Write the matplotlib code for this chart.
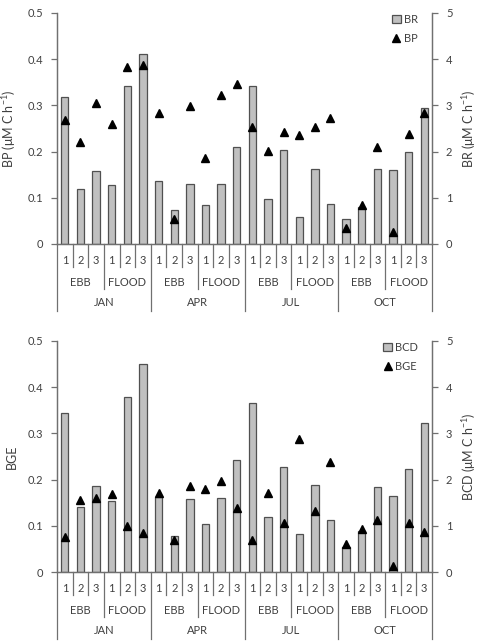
import matplotlib.pyplot as plt
import numpy as np
from matplotlib.lines import Line2D
from matplotlib.patches import Patch
from matplotlib.transforms import blended_transform_factory

plt.rcParams['font.family'] = ['Lato', 'DejaVu Sans']
plt.rcParams['mathtext.default'] = 'regular'

# Data (order: month -> tide -> site)
months = ['JAN', 'APR', 'JUL', 'OCT']
tides = ['EBB', 'FLOOD']
sites = ['1', '2', '3']

br = [3.19, 1.19, 1.57, 1.28, 3.41, 4.10,
      1.37, 0.73, 1.29, 0.84, 1.29, 2.09,
      3.42, 0.98, 2.03, 0.59, 1.63, 0.87,
      0.54, 0.80, 1.63, 1.61, 2.00, 2.94]
bp = [0.269, 0.220, 0.305, 0.259, 0.383, 0.388,
      0.283, 0.054, 0.299, 0.185, 0.323, 0.345,
      0.253, 0.201, 0.242, 0.235, 0.253, 0.272,
      0.035, 0.084, 0.209, 0.025, 0.237, 0.283]

bcd = [3.45, 1.40, 1.86, 1.53, 3.79, 4.49,
       1.63, 0.77, 1.58, 1.03, 1.60, 2.43,
       3.66, 1.18, 2.27, 0.82, 1.89, 1.13,
       0.54, 0.88, 1.84, 1.64, 2.23, 3.22]
bge = [0.076, 0.155, 0.161, 0.168, 0.099, 0.085,
       0.170, 0.069, 0.187, 0.179, 0.197, 0.138,
       0.069, 0.171, 0.106, 0.288, 0.133, 0.238,
       0.061, 0.092, 0.112, 0.014, 0.105, 0.087]

txt = '#404040'
bar_face = '#c0c0c0'
bar_edge = '#505050'

fig = plt.figure(figsize=(4.79, 6.42), dpi=100)


def panel(rect, bars, tris, bar_name, tri_name, left_label, right_label):
    ax = fig.add_axes(rect)
    ax2 = ax.twinx()
    ax.set_zorder(ax2.get_zorder() + 1)
    ax.patch.set_visible(False)

    n = len(bars)
    x = np.arange(n)
    ax2.bar(x, bars, width=0.47, color=bar_face, edgecolor=bar_edge, linewidth=0.9)
    ax.plot(x, tris, linestyle='none', marker='^', color='black', markersize=6)

    ax.set_xlim(-0.5, n - 0.5)
    ax.set_ylim(0, 0.5)
    ax2.set_ylim(0, 5)
    ax.set_yticks(np.arange(0, 0.51, 0.1))
    ax.set_yticklabels(['0', '0.1', '0.2', '0.3', '0.4', '0.5'])
    ax2.set_yticks(np.arange(0, 5.1, 1))
    ax2.set_yticklabels(['0', '1', '2', '3', '4', '5'])
    ax.set_xticks([])

    for a in (ax, ax2):
        a.spines['top'].set_visible(False)
        for s in ('left', 'right', 'bottom'):
            a.spines[s].set_color('#707070')
            a.spines[s].set_linewidth(0.9)
        a.tick_params(axis='y', colors='#707070', labelcolor=txt, labelsize=8,
                      length=4, width=0.9, pad=6)

    ax.set_ylabel(left_label, color=txt, fontsize=9)
    ax2.set_ylabel(right_label, color=txt, fontsize=9)
    ax.yaxis.set_label_coords(-0.105, 0.5)
    ax2.yaxis.set_label_coords(1.075, 0.5)

    # hierarchical category axis
    tr = blended_transform_factory(ax.transData, ax.transAxes)
    lc = '#707070'
    for k in range(n + 1):
        xb = k - 0.5
        if k % 6 == 0:
            y1 = -0.29
        elif k % 3 == 0:
            y1 = -0.195
        else:
            y1 = -0.10
        ax.plot([xb, xb], [0, y1], color=lc, linewidth=0.9, transform=tr, clip_on=False)
    i = 0
    for mi, m in enumerate(months):
        ax.text(mi * 6 + 2.5, -0.255, m, transform=tr, ha='center', va='center',
                fontsize=8, color=txt)
        for ti, t in enumerate(tides):
            ax.text(mi * 6 + ti * 3 + 1, -0.165, t, transform=tr, ha='center',
                    va='center', fontsize=8, color=txt)
            for s in sites:
                ax.text(i, -0.07, s, transform=tr, ha='center', va='center',
                        fontsize=8, color=txt)
                i += 1

    handles = [Patch(facecolor=bar_face, edgecolor=bar_edge, linewidth=0.9, label=bar_name),
               Line2D([], [], linestyle='none', marker='^', color='black',
                      markersize=6, label=tri_name)]
    leg = ax.legend(handles=handles, loc='upper right', bbox_to_anchor=(0.975, 1.015),
                    frameon=False, fontsize=8, handlelength=0.8, handleheight=0.8,
                    handletextpad=0.3, labelspacing=0.7, borderaxespad=0)
    for t in leg.get_texts():
        t.set_color(txt)
    return ax, ax2


panel([0.119, 0.620, 0.783, 0.360], br, bp, 'BR', 'BP',
      'BP (μM C h$^{-1}$)', 'BR (μM C h$^{-1}$)')
panel([0.119, 0.109, 0.783, 0.360], bcd, bge, 'BCD', 'BGE',
      'BGE', 'BCD (μM C h$^{-1}$)')

fig.savefig('out.png', dpi=100)
